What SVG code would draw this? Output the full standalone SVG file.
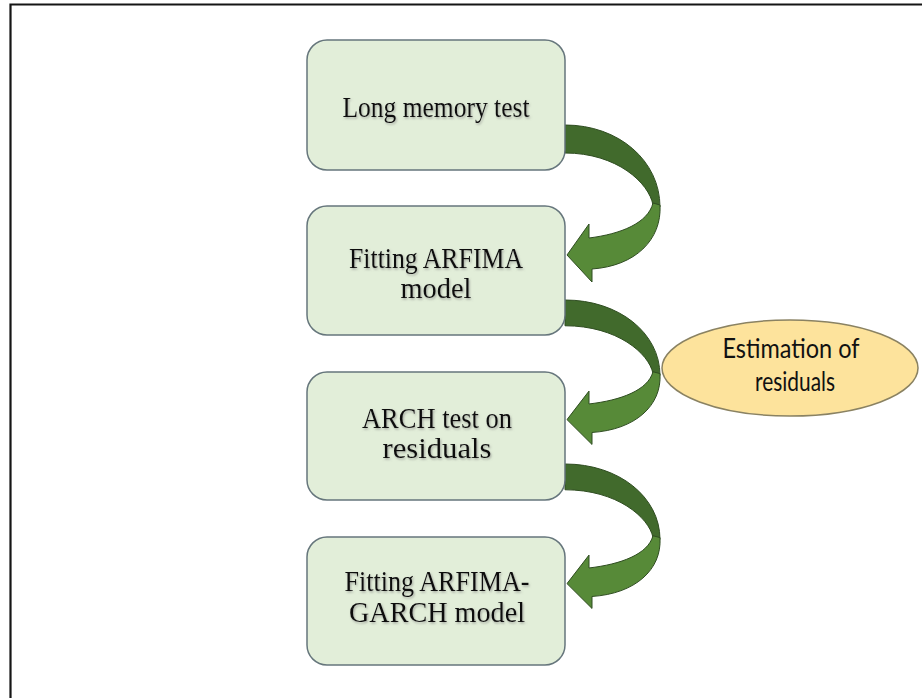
<svg xmlns="http://www.w3.org/2000/svg" xmlns:xlink="http://www.w3.org/1999/xlink" width="922" height="698" viewBox="0 0 922 698">
  <style>
    .box { fill: #e2eed9; stroke: #66767c; stroke-width: 1.5; }
    .lbl { font-family: "Liberation Serif", "Times New Roman", serif; font-size: 30px; fill: #111; text-anchor: middle; filter: url(#tshadow); }
    .elbl { font-family: "Lato", "Open Sans", sans-serif; font-size: 26px; fill: #111; text-anchor: middle; }
    .back { fill: #416a2c; stroke: #2f4d21; stroke-width: 1; vector-effect: non-scaling-stroke; }
    .front { fill: #578a38; stroke: #2f4d21; stroke-width: 1; vector-effect: non-scaling-stroke; }
  </style>
  <defs>
    <filter id="tshadow" x="-10%" y="-20%" width="120%" height="150%">
      <feDropShadow dx="1" dy="1.5" stdDeviation="0.8" flood-color="#7a7a7a" flood-opacity="0.6"/>
    </filter>
    <g id="carrow">
      <path class="back" d="M0,0 C54,0 95,36 95,82 L88,80 C84,58 52,28 0,28 Z"/>
      <path class="front" d="M95,80 C97,115 70,141 27,144 L27,157 L2,130 L24,99 L24,113 C56,109 83,98 88,78 Z"/>
    </g>
  </defs>
  <rect width="922" height="698" fill="#ffffff"/>
  <path d="M10.5,698 V4.5 H922" fill="none" stroke="#151515" stroke-width="2.2"/>

  <g id="connectors">
    <use xlink:href="#carrow" transform="translate(565,125)"/>
    <use xlink:href="#carrow" transform="translate(565,300) scale(1,0.92)"/>
    <use xlink:href="#carrow" transform="translate(565,464) scale(1,0.92)"/>
  </g>

  <g id="node-long-memory">
    <rect class="box" x="307" y="40" width="258" height="130" rx="20" ry="20"/>
    <text class="lbl" x="436" y="117" textLength="187" lengthAdjust="spacingAndGlyphs">Long memory test</text>
  </g>
  <g id="node-fitting-arfima">
    <rect class="box" x="307" y="206" width="258" height="129" rx="20" ry="20"/>
    <text class="lbl" x="436" y="268" textLength="174" lengthAdjust="spacingAndGlyphs">Fitting ARFIMA</text>
    <text class="lbl" x="436" y="298" textLength="71" lengthAdjust="spacingAndGlyphs">model</text>
  </g>
  <g id="node-arch-test">
    <rect class="box" x="307" y="372" width="258" height="128" rx="20" ry="20"/>
    <text class="lbl" x="437" y="428" textLength="150" lengthAdjust="spacingAndGlyphs">ARCH test on</text>
    <text class="lbl" x="437" y="458" textLength="109" lengthAdjust="spacingAndGlyphs">residuals</text>
  </g>
  <g id="node-arfima-garch">
    <rect class="box" x="307" y="537" width="258" height="128" rx="20" ry="20"/>
    <text class="lbl" x="437" y="591" textLength="185" lengthAdjust="spacingAndGlyphs">Fitting ARFIMA-</text>
    <text class="lbl" x="437" y="622" textLength="176" lengthAdjust="spacingAndGlyphs">GARCH model</text>
  </g>
  <g id="node-estimation">
    <ellipse cx="790" cy="368" rx="128" ry="48" fill="#fde39c" stroke="#8a8262" stroke-width="1.5"/>
    <text class="elbl" x="791" y="358" textLength="137" lengthAdjust="spacingAndGlyphs">Estimation of</text>
    <text class="elbl" x="795" y="391" textLength="80" lengthAdjust="spacingAndGlyphs">residuals</text>
  </g>
</svg>
